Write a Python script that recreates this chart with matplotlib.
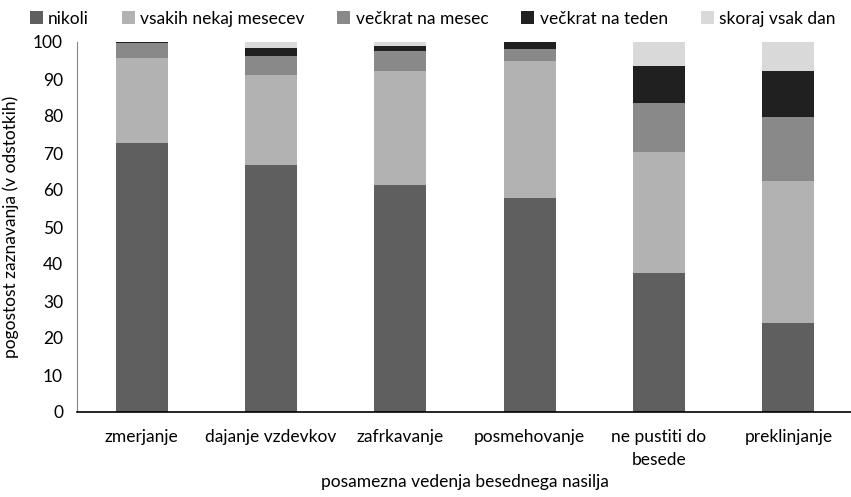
import numpy as np
import matplotlib.pyplot as plt
from matplotlib import font_manager

# kategorije in vrednosti (v odstotkih)
kategorije = ['zmerjanje', 'dajanje vzdevkov', 'zafrkavanje', 'posmehovanje',
              'ne pustiti do\nbesede', 'preklinjanje']
serije = ['nikoli', 'vsakih nekaj mesecev', 'večkrat na mesec',
          'večkrat na teden', 'skoraj vsak dan']
nikoli = [72.8, 66.8, 61.3, 57.8, 37.7, 24.0]
vsakih_nekaj_mesecev = [23.0, 24.3, 30.8, 37.1, 32.6, 38.5]
veckrat_na_mesec = [3.8, 5.2, 5.5, 3.1, 13.2, 17.3]
veckrat_na_teden = [0.4, 2.2, 1.4, 2.0, 10.0, 12.3]
skoraj_vsak_dan = [0.0, 1.5, 1.0, 0.0, 6.5, 7.9]
barve = ['#5f5f5f', '#b2b2b2', '#898989', '#202020', '#d9d9d9']

names = {f.name for f in font_manager.fontManager.ttflist}
fam = 'Liberation Sans Narrow' if 'Liberation Sans Narrow' in names else 'Lato'
plt.rcParams['font.family'] = [fam, 'DejaVu Sans']
fs = 12.5

fig = plt.figure(figsize=(8.51, 4.97), dpi=100)
ax = fig.add_axes([77 / 851, 85 / 497, 776 / 851, 370 / 497])

x = np.arange(len(kategorije))
dno = np.zeros(len(kategorije))
for ime, vals, c in zip(serije, [nikoli, vsakih_nekaj_mesecev, veckrat_na_mesec,
                                  veckrat_na_teden, skoraj_vsak_dan], barve):
    ax.bar(x, vals, 0.4, bottom=dno, color=c, label=ime)
    dno += np.array(vals)

ax.set_xlim(-0.5, 5.5)
ax.set_ylim(0, 100)
ax.set_yticks(range(0, 101, 10))
ax.set_xticks(x)
ax.set_xticklabels(kategorije, fontsize=fs, linespacing=1.6)
ax.tick_params(axis='y', labelsize=fs, length=0, pad=10)
ax.tick_params(axis='x', length=0, pad=12)
for s in ['top', 'right']:
    ax.spines[s].set_visible(False)
ax.spines['left'].set_color('#868686')
ax.spines['bottom'].set_color('black')
ax.spines['bottom'].set_linewidth(1.2)

ax.set_ylabel('pogostost zaznavanja (v odstotkih)', fontsize=fs, labelpad=10)
ax.set_xlabel('posamezna vedenja besednega nasilja', fontsize=fs, labelpad=4)

fig.legend(loc='upper right', bbox_to_anchor=(1.0, 1.01), ncol=5, frameon=False,
           fontsize=fs, handlelength=0.75, handleheight=0.75, handletextpad=0.3,
           columnspacing=1.9)

plt.savefig('out.png', dpi=100)
